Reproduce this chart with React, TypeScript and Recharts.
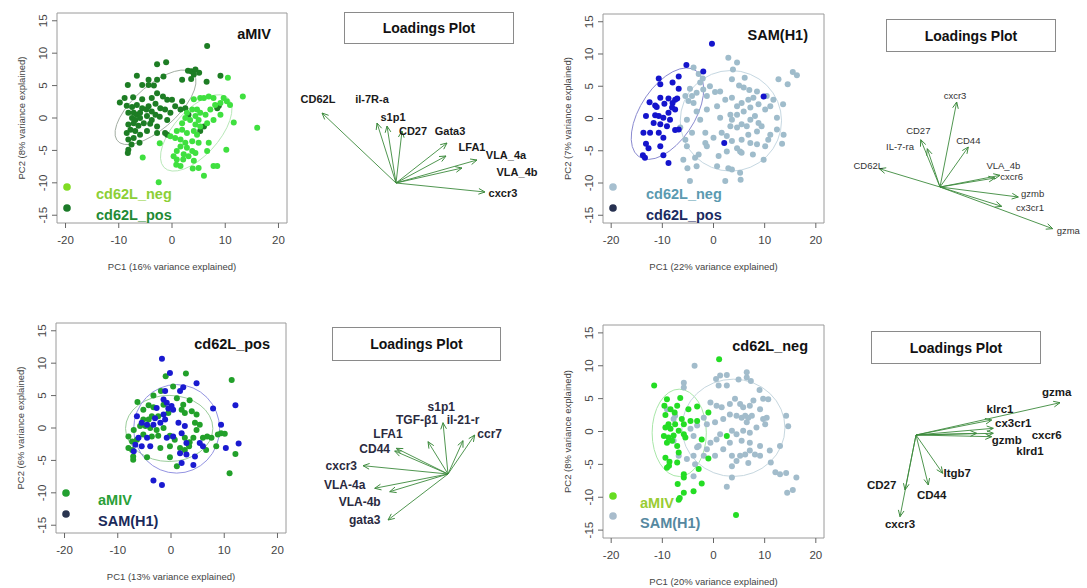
import React from 'react';
import { ScatterChart, Scatter, XAxis, YAxis, ReferenceArea } from 'recharts';

const FONT = '"Liberation Sans", Arial, Helvetica, sans-serif';
const XDOM: [number, number] = [-21.6, 21.6];
const YDOM: [number, number] = [-16.2, 16.2];
const X_TICKS = [-20, -10, 0, 10, 20];
const Y_TICKS = [-15, -10, -5, 0, 5, 10, 15];

type Pt = [number, number];

// ---- aMIV: cd62L_pos vs cd62L_neg ----
const aMIV_pos: Pt[] = [
  [6.6, 11.1], [-1.1, 8.6], [-2.8, 8.3], [-6.6, 6.5], [-4.4, 5.9], [-2.8, 5.9], [-1.6, 6.4], [-8.3, 5.1],
  [-5.6, 5.1], [-4.4, 5.1], [-3.4, 5.0], [1.9, 5.9], [3.0, 7.3], [3.6, 7.2], [4.4, 7.5], [5.1, 7.0],
  [4.1, 6.7], [3.6, 6.0], [6.5, 5.6], [9.1, 6.5], [-9.8, 2.4], [-8.9, 3.1], [-7.3, 3.2], [-5.6, 2.9],
  [-3.8, 3.1], [-2.8, 3.8], [-1.7, 3.3], [-0.9, 2.8], [0, 2.8], [1.9, 2.6], [-8.5, 1.9], [-7.5, 1.7],
  [-6.6, 2.0], [-5.6, 1.5], [-4.4, 1.8], [-3.1, 2.2], [-2.2, 1.5], [0.6, 1.8], [-8.2, 0.8], [-7.2, 0.8],
  [-6.6, 0.5], [-6.0, 0.8], [-4.8, 1.3], [-3.8, 1.0], [-3.1, 0.5], [-1.3, 1.3], [-0.3, 0.8], [1.6, 1.3],
  [-7.5, 0], [-6.9, -0.3], [-6.0, 0], [-4.7, 0.3], [-3.8, -0.3], [-2.3, 0.2], [-0.9, -0.3], [-8.2, -1.0],
  [-7.2, -0.8], [-6.3, -1.2], [-5.3, -0.8], [-4.1, -0.9], [-2.8, -1.3], [-7.8, -1.8], [-8.5, -2.3], [-6.9, -2.0],
  [-6.0, -2.6], [-4.7, -2.0], [-2.8, -2.3], [-1.3, -2.3], [-0.9, -2.6], [-8.2, -3.3], [-7.2, -3.1], [-6.1, -3.8],
  [-7.6, -4.1], [-8.2, -4.9], [-8.3, -5.4], [5.3, -2.0], [6.0, -1.3], [8.5, 1.5], [8.8, 1.9], [2.5, 1.5], [3.1, 0.5],
];
const aMIV_neg: Pt[] = [
  [10.5, 6.2], [13.3, 3.3], [16.0, -1.5], [11.6, -0.7], [10.2, -4.9], [7.8, -7.4], [8.5, -7.4], [6.0, -8.9],
  [5.0, -7.7], [3.9, -7.8], [2.1, -6.4], [0.8, -7.2], [0.9, -6.4], [-5.5, -6.1], [-2.3, -3.9], [-2.5, -9.9],
  [4.1, 2.9], [5.3, 3.1], [6.0, 3.1], [7.8, 3.1], [9.1, 2.3], [10.3, 2.6], [10.9, 2.0], [7.2, 1.3],
  [6.3, 0.5], [5.3, 0.8], [4.7, 1.3], [3.8, 1.3], [2.8, 0.8], [4.4, 0.3], [5.0, -0.3], [3.4, -0.3],
  [2.5, 0], [1.9, -0.8], [4.4, -1.0], [5.3, -1.3], [6.6, -0.8], [7.8, -0.3], [9.1, 0.5], [0.9, -2.0],
  [1.9, -1.8], [2.8, -2.3], [4.1, -2.0], [4.7, -2.6], [-0.3, -2.8], [0.6, -3.1], [1.6, -3.3], [2.5, -3.8],
  [3.8, -3.6], [5.0, -3.8], [6.9, -3.8], [1.6, -4.4], [2.8, -4.6], [3.8, -5.1], [4.4, -5.4], [0.9, -5.1],
  [2.2, -5.6], [3.1, -5.9], [0.3, -5.9], [6.6, -5.1], [4.1, -6.6], [1.6, -7.4], [6.9, 3.3], [9.7, 3.1], [8.1, 2.0],
];

// ---- SAM(H1): cd62L_pos vs cd62L_neg ----
const sam_pos: Pt[] = [
  [-0.3, 11.6], [-5.3, 8.3], [-2.0, 7.3], [-10.7, 6.2], [-10.4, 5.3], [-6.8, 6.5], [-8.0, 5.6], [-6.8, 4.6],
  [-10.4, 3.2], [-8.8, 3.1], [-12.5, 2.5], [-11.4, 2.0], [-11.1, 1.8], [-9.6, 2.3], [-8.0, 2.4], [-7.5, 2.9],
  [-7.1, 3.1], [-8.1, 1.7], [-7.5, 1.4], [-13.2, 0.4], [-11.4, 0.5], [-10.7, 0.4], [-9.8, 0.1], [-8.5, -0.2],
  [-11.7, -0.7], [-10.4, -0.9], [-9.1, -1.2], [-7.5, -1.8], [-6.8, -1.7], [-13.7, -2.2], [-12.4, -2.2], [-10.7, -2.2],
  [-9.8, -3.0], [-13.2, -3.9], [-12.7, -4.6], [-10.4, -4.3], [-13.8, -5.7], [-13.4, -6.1], [-9.8, -5.7], [-8.8, -6.9],
  [9.8, 3.4], [2.1, -3.8], [-8.8, 0.9],
];
const sam_neg: Pt[] = [
  [2.9, 9.4], [4.6, 8.7], [3.8, 7.6], [-3.9, 7.9], [-2.9, 6.9], [-2.1, 6.2], [-2.6, 5.6], [3.6, 6.1],
  [6.1, 6.3], [12.7, 6.1], [14.5, 5.3], [15.5, 7.2], [16.3, 6.7], [-4.6, 4.6], [-1.3, 3.5], [0.3, 4.1],
  [1.3, 4.2], [5.0, 5.1], [5.9, 4.8], [7.0, 4.4], [8.5, 4.2], [10.4, 3.5], [11.1, 1.9], [13.6, 2.2],
  [12.4, 0.1], [13.7, -2.5], [13.4, -3.9], [9.8, -6.4], [7.7, -5.6], [5.2, -5.1], [4.6, -4.6], [5.5, -5.3],
  [2.6, -5.1], [1.0, -5.8], [0.7, -7.4], [2.9, -7.7], [3.6, -7.9], [5.2, -8.4], [5.3, -9.5], [2.3, -9.7],
  [-3.3, -7.4], [-5.1, -7.7], [-5.9, -6.4], [-4.6, -9.7], [-1.6, -2.2], [0, -3.0], [-1.6, -3.8], [-1.3, -4.3],
  [-2.9, -5.6], [-3.6, -6.1], [-5.2, -4.3], [-4.2, -2.2], [-5.5, -3.3], [-6.5, -1.4], [-5.2, -0.2], [-3.3, 1.1],
  [-2.6, -0.2], [-3.9, 2.4], [-4.9, 2.7], [-5.5, 3.5], [-1.3, 1.4], [1.3, 0.1], [3.3, 0.6], [3.6, -0.2],
  [3.3, -1.2], [4.6, -1.4], [5.5, -0.9], [6.5, -1.2], [7.2, -0.2], [8.1, 0.4], [8.8, -0.7], [9.4, -1.2],
  [8.5, -2.0], [6.8, -2.5], [5.5, -3.3], [7.2, -3.8], [8.5, -4.0], [10.1, -4.3], [10.7, -3.3], [3.6, -3.5],
  [2.6, -2.7], [1.6, -2.2], [4.6, 1.9], [5.5, 2.4], [6.8, 2.9], [7.8, 3.2], [8.8, 2.2], [10.1, 1.4],
  [3.6, 3.2], [2.3, 2.9], [0.7, 1.9], [4.6, 0.6], [5.9, 1.1], [7.2, 1.7], [-0.7, 5.0], [-2.0, 4.5],
  [-3.3, 4.0], [-4.2, 3.5], [11.1, -2.5], [12.4, -1.7], [11.7, 2.9],
];

// ---- cd62L_pos: aMIV vs SAM(H1) ----
const pos_sam: Pt[] = [
  [-1.7, 10.7], [-0.2, 8.5], [4.8, 6.9], [2.3, 6.3], [1.7, 5.7], [-1.1, 5.7], [-1.4, 4.4], [-0.8, 3.9],
  [0.1, 3.4], [0.4, 2.8], [-0.5, 3.0], [-2.7, 3.1], [-1.4, 2.1], [-2.0, 0.8], [-3.3, 0.5], [-4.5, 0.5],
  [-5.5, 0.8], [-6.4, 1.8], [-3.0, 1.5], [-1.1, 1.3], [1.4, 0.8], [2.6, 0.3], [2.0, -0.8], [0.4, -1.3],
  [-0.8, -1.5], [-4.5, -1.5], [-6.1, -1.5], [-5.5, -2.8], [-6.7, -2.6], [-7.0, -3.6], [-3.9, -2.8], [1.7, -3.9],
  [2.9, -4.1], [2.0, -5.4], [4.2, -5.7], [4.5, -4.4], [6.0, -2.8], [7.9, 3.0], [9.4, 0.5], [10.3, -3.1],
  [12.7, -2.4], [12.1, 3.5], [-3.3, -8.1], [-1.7, -8.8], [5.4, -2.3], [2.9, -2.3],
];
const pos_aMIV: Pt[] = [
  [11.4, 7.4], [-1.0, 8.0], [2.8, 8.4], [0.4, 6.4], [-1.9, 5.7], [-3.3, 5.0], [1.1, 4.6], [3.5, 4.3],
  [2.3, 3.6], [-6.3, 4.0], [-4.2, 3.5], [-3.3, 3.2], [-1.4, 3.6], [-5.2, 2.8], [-2.4, 1.8], [-0.5, 2.3],
  [2.0, 2.8], [3.9, 2.6], [4.8, 2.1], [2.6, 2.3], [-5.2, 1.3], [-4.2, 1.3], [-3.6, 1.8], [-5.8, 0.3],
  [-4.8, 0.3], [-3.9, 0], [-2.7, -0.3], [-1.4, 0], [4.5, 0.8], [5.4, 0.5], [4.8, -0.3], [-7.0, -0.3],
  [-8.0, -1.3], [-7.3, -2.1], [-6.4, -1.8], [-5.2, -1.0], [-3.6, -1.3], [-2.4, -1.2], [-0.2, -1.2], [0.7, -1.8],
  [2.6, -1.5], [4.2, -1.5], [6.0, -1.5], [6.8, -1.3], [7.6, -1.5], [8.8, -1.0], [9.4, -0.8], [10.1, -0.9],
  [-8.0, -3.1], [-7.3, -3.4], [-7.1, -4.4], [-7.1, -4.9], [-4.5, -4.5], [-2.0, -3.1], [-0.2, -2.8], [-0.2, -4.5],
  [1.7, -3.1], [2.6, -3.4], [1.1, -5.9], [3.4, -2.8], [6.6, -3.4], [8.5, -2.8], [12.1, -4.0], [11.0, -7.0], [3.5, -2.2],
];

// ---- cd62L_neg: aMIV vs SAM(H1) ----
const neg_aMIV: Pt[] = [
  [-11.6, 7.0], [1.1, 11.0], [4.4, -12.7], [-9.1, 4.9], [-6.5, 5.1], [-7.1, 3.9], [-9.6, 3.9], [-8.4, 3.4],
  [-7.6, 2.9], [-9.4, 2.5], [-4.9, 3.4], [-3.2, 3.8], [-1.0, 2.9], [-6.2, 1.9], [-4.5, 1.6], [-3.2, 1.6],
  [-5.8, 1.1], [-8.8, 1.1], [-9.4, 0.6], [-8.4, 0.4], [-7.5, 1.1], [-6.8, 0.1], [-5.8, -0.4], [-9.7, -0.7],
  [-8.8, -0.9], [-7.8, -0.6], [-5.5, -0.9], [-2.3, -1.2], [-9.1, -1.7], [-8.1, -1.4], [-7.1, -2.2], [2.6, -0.7],
  [-9.4, -4.0], [-8.6, -4.6], [-8.7, -5.2], [-7.1, -4.7], [-9.1, -5.5], [-6.8, -3.2], [-5.8, -6.5], [-5.8, -7.0],
  [-7.0, -8.0], [-2.9, -5.7], [-2.3, -7.9], [-1.0, -4.1], [-5.8, -9.3], [-3.9, -9.1], [-6.6, -10.1], [-6.8, -10.4],
];
const neg_sam: Pt[] = [
  [-3.7, 10.0], [-5.8, 7.4], [-5.8, 6.7], [0.5, 8.0], [1.3, 8.5], [2.6, 8.6], [1.0, 7.0], [2.6, 7.0],
  [4.9, 7.9], [6.5, 9.0], [6.5, 8.2], [7.3, 7.7], [9.0, 6.3], [9.7, 5.0], [10.7, 4.9], [-0.6, 4.4],
  [0.6, 3.9], [1.6, 3.7], [3.2, 4.2], [4.2, 5.0], [5.2, 4.2], [5.8, 3.7], [7.1, 3.9], [7.8, 4.7],
  [9.1, 3.4], [10.4, 2.1], [14.2, 2.4], [14.6, 0.8], [13.0, -2.2], [11.0, -2.9], [11.2, -4.7], [9.1, -3.7],
  [8.1, -3.5], [7.1, -2.9], [6.2, -3.5], [5.2, -3.7], [3.6, -3.7], [4.5, -4.5], [6.8, -4.8], [3.6, -5.3],
  [12.1, -6.2], [13.0, -6.5], [14.2, -6.3], [16.2, -7.0], [14.4, -9.3], [15.5, -8.9], [3.6, -7.0], [2.6, -8.4],
  [0.3, -3.7], [-1.3, -2.7], [-1.9, -3.7], [-3.9, -3.7], [-3.6, -5.0], [-3.9, -6.8], [-5.2, -4.2], [-2.9, -2.2],
  [-0.6, -1.7], [0.6, -1.2], [1.3, -0.4], [3.6, 0.1], [4.5, -0.4], [5.8, 0.1], [7.1, -0.2], [8.4, 0.6],
  [9.7, 1.9], [10.1, 1.1], [5.5, 2.1], [6.2, 2.4], [6.8, 2.1], [7.5, 2.4], [4.5, 2.4], [3.2, 2.6],
  [1.9, 1.9], [0.3, 1.4], [-1.3, 1.1], [-1.9, 2.1], [-3.2, 0.9], [-3.9, -0.7], [-4.5, 0.4], [-3.2, -2.4],
  [-6.8, -3.7], [-7.8, -1.4], [-7.5, 2.4], [-7.8, 1.9], [-9.1, 3.4], [6.5, 1.4], [7.1, -1.7], [3.2, -1.7],
  [5.5, -1.4], [1.9, -2.7], [9.1, -2.2],
];

// ellipses: centre + two conjugate semi-axes (data units)
interface Ell { x: number; y: number; ux: number; uy: number; vx: number; vy: number }
const aMIV_ell: Ell[] = [
  { x: -3.1, y: 1.65, ux: 7.26, uy: 5.05, vx: 2.26, vy: -2.77 },
  { x: 4.55, y: -2.3, ux: 6.08, uy: 5.3, vx: 2.85, vy: -2.58 },
];
const sam_ell: Ell[] = [
  { x: -9.0, y: 0.75, ux: 5.7, uy: 6.6, vx: 4.21, vy: -2.6 },
  { x: 3.4, y: -0.36, ux: 9.9, uy: 0, vx: 0, vy: 7.8 },
];
const pos_ell: Ell[] = [
  { x: -0.34, y: -0.07, ux: 8.2, uy: 0, vx: 0, vy: 5.1 },
  { x: 1.06, y: -0.13, ux: 8.07, uy: 0, vx: 0, vy: 6.83 },
];
const neg_ell: Ell[] = [
  { x: -6.7, y: -0.2, ux: 5.3, uy: 0, vx: 0, vy: 6.64 },
  { x: 3.9, y: 0.56, ux: 10.07, uy: 0, vx: 0, vy: 7.4 },
];

// loadings: [name, PC1, PC2], label positions [x, y]
type Ld = [string, number, number];
const aMIV_load: Ld[] = [
  ['CD62L', -0.74, 0.7], ['il-7R-a', -0.19, 0.6], ['s1p1', -0.09, 0.57], ['CD27', 0.06, 0.52], ['Gata3', 0.51, 0.4],
  ['LFA1', 0.5, 0.27], ['VLA_4a', 0.81, 0.23], ['VLA_4b', 0.66, 0.15], ['cxcr3', 0.89, -0.09],
];
const aMIV_lab: Pt[] = [[-0.78, 0.84], [-0.24, 0.84], [-0.03, 0.66], [0.17, 0.52], [0.54, 0.52], [0.76, 0.36], [1.1, 0.28], [1.21, 0.11], [1.07, -0.1]];

const sam_load: Ld[] = [
  ['cxcr3', 0.167, 0.85], ['CD27', -0.193, 0.473], ['IL-7-ra', -0.127, 0.383], ['CD44', 0.283, 0.4], ['CD62L', -0.607, 0.183],
  ['VLA_4b', 0.6, 0.117], ['cxcr6', 0.55, 0.09], ['gzmb', 0.783, -0.1], ['cx3cr1', 0.617, -0.193], ['gzma', 1.127, -0.417],
];
const sam_lab: Pt[] = [[0.15, 0.917], [-0.217, 0.567], [-0.4, 0.4], [0.283, 0.46], [-0.717, 0.217], [0.633, 0.217], [0.717, 0.107], [0.927, -0.067], [0.9, -0.207], [1.283, -0.433]];

const pos_load: Ld[] = [
  ['s1p1', -0.05, 0.513], ['TGF-β1', -0.2, 0.323], ['il-21-r', 0.15, 0.333], ['ccr7', 0.267, 0.39], ['LFA1', -0.517, 0.257],
  ['CD44', -0.533, 0.23], ['cxcr3', -0.85, 0.083], ['VLA-4a', -0.733, -0.143], ['VLA-4b', -0.583, -0.177], ['gata3', -0.6, -0.46],
];
const pos_lab: Pt[] = [[-0.067, 0.673], [-0.31, 0.54], [0.15, 0.54], [0.417, 0.407], [-0.6, 0.4], [-0.733, 0.257], [-1.067, 0.083], [-1.033, -0.103], [-0.883, -0.277], [-0.833, -0.46]];

const neg_load: Ld[] = [
  ['gzma', 1.44, 0.323], ['klrc1', 0.757, 0.15], ['cx3cr1', 0.773, 0.067], ['cxcr6', 0.773, 0.017], ['gzmb', 0.607, 0.017],
  ['klrd1', 0.757, -0.017], ['Itgb7', 0.267, -0.383], ['CD44', 0.123, -0.5], ['CD27', -0.11, -0.55], ['cxcr3', -0.16, -0.817],
];
const neg_lab: Pt[] = [[1.407, 0.433], [0.84, 0.257], [0.973, 0.117], [1.307, 0], [0.907, -0.05], [1.14, -0.157], [0.413, -0.383], [0.157, -0.6], [-0.343, -0.5], [-0.16, -0.89]];

const toXY = (pts: Pt[]) => pts.map(([x, y]) => ({ x, y }));

interface Box { left: number; top: number; w: number; h: number }
interface Series { name: string; points: Pt[]; color: string }

function YTick(props: any) {
  const { x, y, payload } = props;
  const tx = x - 3;
  return (
    <text x={tx} y={y} transform={`rotate(-90, ${tx}, ${y})`} textAnchor="middle" fontSize={11.5} fill="#444" fontFamily={FONT}>
      {payload.value}
    </text>
  );
}

function PcaPanel({ box, series, ellipses, ellColors }: { box: Box; series: Series[]; ellipses: Ell[]; ellColors: string[] }) {
  const sx = box.w / (XDOM[1] - XDOM[0]);
  const sy = box.h / (YDOM[1] - YDOM[0]);
  const ellShape = (stroke: string) => (p: any) => {
    const e = p.payload as Ell;
    return (
      <circle
        r={1}
        fill="none"
        stroke={stroke}
        strokeWidth={1}
        vectorEffect="non-scaling-stroke"
        transform={`matrix(${e.ux * sx},${-e.uy * sy},${e.vx * sx},${-e.vy * sy},${p.cx},${p.cy})`}
      />
    );
  };
  return (
    <div style={{ position: 'absolute', left: box.left - 50, top: box.top - 10 }}>
      <ScatterChart width={box.w + 60} height={box.h + 50} margin={{ top: 10, right: 10, bottom: 0, left: 0 }}>
        <XAxis type="number" dataKey="x" domain={XDOM} ticks={X_TICKS} allowDataOverflow axisLine={false}
          tickSize={5} tickMargin={8} height={40} tickLine={{ stroke: '#666' }}
          tick={{ fontSize: 11.5, fill: '#444', fontFamily: FONT }} />
        <YAxis type="number" dataKey="y" domain={YDOM} ticks={Y_TICKS} allowDataOverflow axisLine={false}
          tickSize={5} tickMargin={2} width={50} tickLine={{ stroke: '#666' }} tick={<YTick />} />
        <ReferenceArea x1={XDOM[0]} x2={XDOM[1]} y1={YDOM[0]} y2={YDOM[1]} fill="none" fillOpacity={0} stroke="#9a9a9a" strokeWidth={1} ifOverflow="visible" />
        {ellipses.map((e, i) => (
          <Scatter key={`e${i}`} data={[e]} shape={ellShape(ellColors[i])} isAnimationActive={false} />
        ))}
        {series.map((s) => (
          <Scatter key={s.name} data={toXY(s.points)} fill={s.color} isAnimationActive={false}
            shape={(p: any) => <circle cx={p.cx} cy={p.cy} r={3} fill={s.color} />} />
        ))}
      </ScatterChart>
    </div>
  );
}

const ARROW = '#3d8b3d';

function arrowHead(p: any) {
  const d = p.payload;
  if (!d || !d.tip) return <g />;
  const th = Math.atan2(-d.y, d.x);
  const L = 7;
  const f = 0.42;
  const x1 = p.cx - L * Math.cos(th - f);
  const y1 = p.cy - L * Math.sin(th - f);
  const x2 = p.cx - L * Math.cos(th + f);
  const y2 = p.cy - L * Math.sin(th + f);
  return <path d={`M${x1},${y1}L${p.cx},${p.cy}L${x2},${y2}`} fill="none" stroke={ARROW} strokeWidth={1} />;
}

function LoadingsPanel({ ox, oy, load, labels, fontSize, bold, color }: {
  ox: number; oy: number; load: Ld[]; labels: Pt[]; fontSize: number; bold: boolean; color: string;
}) {
  const labelData = load.map((l, i) => ({ x: labels[i][0], y: labels[i][1], name: l[0] }));
  return (
    <div style={{ position: 'absolute', left: ox - 160, top: oy - 120 }}>
      <ScatterChart width={320} height={240} margin={{ top: 0, right: 0, bottom: 0, left: 0 }}>
        <XAxis type="number" dataKey="x" domain={[-1.6, 1.6]} hide allowDataOverflow />
        <YAxis type="number" dataKey="y" domain={[-1.2, 1.2]} hide allowDataOverflow />
        {load.map((l) => (
          <Scatter key={l[0]} data={[{ x: 0, y: 0, tip: false }, { x: l[1], y: l[2], tip: true }]} fill={ARROW}
            line={{ stroke: ARROW, strokeWidth: 1, strokeOpacity: 0.9 }} shape={arrowHead} isAnimationActive={false} />
        ))}
        <Scatter data={labelData} isAnimationActive={false}
          shape={(p: any) => (
            <text x={p.cx} y={p.cy} dy="0.35em" textAnchor="middle" fontSize={fontSize} fontWeight={bold ? 'bold' : 'normal'}
              fill={color} fontFamily={FONT}>{p.payload.name}</text>
          )} />
      </ScatterChart>
    </div>
  );
}

function LoadBox({ left, top, w, h }: { left: number; top: number; w: number; h: number }) {
  return (
    <div style={{
      position: 'absolute', left, top, width: w, height: h, border: '1px solid #8a8a8a', boxSizing: 'border-box',
      display: 'flex', alignItems: 'center', justifyContent: 'center', fontFamily: FONT, fontWeight: 'bold', fontSize: 14, color: '#111',
    }}>Loadings Plot</div>
  );
}

function PanelText({ box, title, xLabel, yLabel, legend }: {
  box: Box; title: string; xLabel: string; yLabel: string;
  legend: { name: string; dot: string; text: string; dy: number; tx: number }[];
}) {
  const cx = box.left + box.w / 2;
  const cy = box.top + box.h / 2;
  const yx = box.left - 32;
  return (
    <g fontFamily={FONT}>
      <text x={box.left + box.w - 16} y={box.top + 26} textAnchor="end" fontSize={14.5} fontWeight="bold" fill="#111">{title}</text>
      <text x={cx} y={box.top + box.h + 47} textAnchor="middle" fontSize={9.5} fill="#444">{xLabel}</text>
      <text x={yx} y={cy} transform={`rotate(-90, ${yx}, ${cy})`} textAnchor="middle" fontSize={9.5} fill="#444">{yLabel}</text>
      {legend.map((l) => (
        <g key={l.name}>
          <circle cx={box.left + 10} cy={box.top + box.h - l.dy} r={3.8} fill={l.dot} />
          <text x={box.left + l.tx} y={box.top + box.h - l.dy + 11.5} fontSize={14.5} fontWeight="bold" fill={l.text}>{l.name}</text>
        </g>
      ))}
    </g>
  );
}

const boxTL: Box = { left: 57, top: 13, w: 230, h: 210 };
const boxTR: Box = { left: 603, top: 14, w: 221, h: 209 };
const boxBL: Box = { left: 56, top: 323, w: 230, h: 210 };
const boxBR: Box = { left: 603, top: 325, w: 221, h: 213 };

export default function App() {
  return (
    <div style={{ position: 'absolute', left: 0, top: 0, width: 1087, height: 588, overflow: 'hidden', background: '#fff' }}>
      <PcaPanel box={boxTL} ellipses={aMIV_ell} ellColors={['#a3aea3', '#b8e8b8']}
        series={[{ name: 'pos', points: aMIV_pos, color: '#1d7d24' }, { name: 'neg', points: aMIV_neg, color: '#3fe03f' }]} />
      <PcaPanel box={boxTR} ellipses={sam_ell} ellColors={['#8a8ad0', '#c6d8e2']}
        series={[{ name: 'neg', points: sam_neg, color: '#9fbccb' }, { name: 'pos', points: sam_pos, color: '#1414cc' }]} />
      <PcaPanel box={boxBL} ellipses={pos_ell} ellColors={['#9bcd9b', '#9494e2']}
        series={[{ name: 'aMIV', points: pos_aMIV, color: '#22a02a' }, { name: 'sam', points: pos_sam, color: '#1a1ad0' }]} />
      <PcaPanel box={boxBR} ellipses={neg_ell} ellColors={['#a8e6a8', '#c6d7df']}
        series={[{ name: 'sam', points: neg_sam, color: '#a2bccb' }, { name: 'aMIV', points: neg_aMIV, color: '#24dd24' }]} />

      <LoadBox left={344} top={12} w={170} h={32} />
      <LoadBox left={886} top={19} w={170} h={33} />
      <LoadBox left={332} top={327} w={169} h={34} />
      <LoadBox left={871} top={331} w={170} h={33} />

      <LoadingsPanel ox={396} oy={183} load={aMIV_load} labels={aMIV_lab} fontSize={11} bold color="#1a1a1a" />
      <LoadingsPanel ox={940} oy={187} load={sam_load} labels={sam_lab} fontSize={9.5} bold={false} color="#333" />
      <LoadingsPanel ox={448} oy={474} load={pos_load} labels={pos_lab} fontSize={12} bold color="#2a2a40" />
      <LoadingsPanel ox={916} oy={435} load={neg_load} labels={neg_lab} fontSize={11.5} bold color="#1a1a1a" />

      <svg width={1087} height={588} style={{ position: 'absolute', left: 0, top: 0, pointerEvents: 'none' }}>
        <PanelText box={boxTL} title="aMIV" xLabel="PC1 (16% variance explained)" yLabel="PC2 (8% variance explained)"
          legend={[{ name: 'cd62L_neg', dot: '#80dc22', text: '#8ccf36', dy: 36, tx: 39 }, { name: 'cd62L_pos', dot: '#1b7a28', text: '#1f8a35', dy: 15, tx: 39 }]} />
        <PanelText box={boxTR} title="SAM(H1)" xLabel="PC1 (22% variance explained)" yLabel="PC2 (7% variance explained)"
          legend={[{ name: 'cd62L_neg', dot: '#a6bfcf', text: '#5b9ab0', dy: 36, tx: 43 }, { name: 'cd62L_pos', dot: '#263050', text: '#1a2a60', dy: 15, tx: 43 }]} />
        <PanelText box={boxBL} title="cd62L_pos" xLabel="PC1 (13% variance explained)" yLabel="PC2 (6% variance explained)"
          legend={[{ name: 'aMIV', dot: '#22a030', text: '#2aa038', dy: 40, tx: 42 }, { name: 'SAM(H1)', dot: '#2a3550', text: '#1a2a5a', dy: 19, tx: 42 }]} />
        <PanelText box={boxBR} title="cd62L_neg" xLabel="PC1 (20% variance explained)" yLabel="PC2 (8% variance explained)"
          legend={[{ name: 'aMIV', dot: '#66dd22', text: '#99cc33', dy: 42, tx: 37 }, { name: 'SAM(H1)', dot: '#a8bccc', text: '#5588a0', dy: 22, tx: 37 }]} />
      </svg>
    </div>
  );
}
